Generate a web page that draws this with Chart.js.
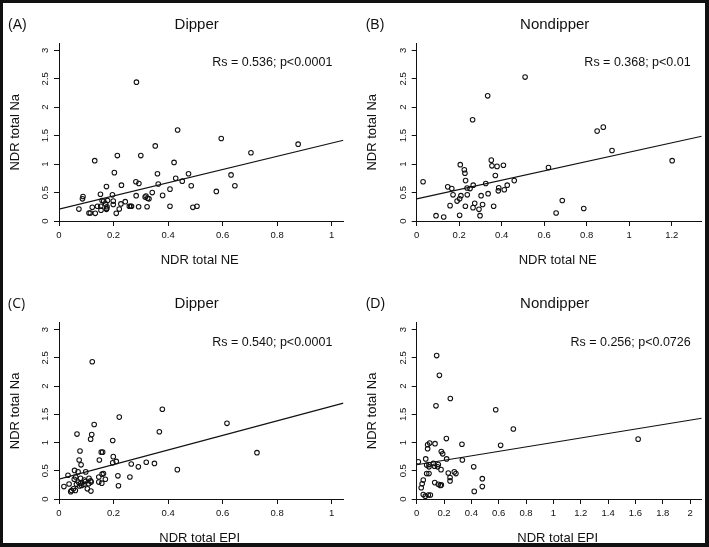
<!DOCTYPE html>
<html>
<head>
<meta charset="utf-8">
<script src="https://cdn.jsdelivr.net/npm/chart.js@4.4.1/dist/chart.umd.min.js"></script>
<style>
  html, body { margin: 0; padding: 0; background: #fff; }
  #wrap { position: relative; width: 709px; height: 547px; overflow: hidden; background: #fff; }
  #wrap canvas { position: absolute; left: 0; top: 0; }
  #frame { position: absolute; left: 0; top: 0; width: 709px; height: 547px; box-sizing: border-box;
           border-style: solid; border-color: #111; border-width: 3px 4px 4px 3px; pointer-events: none; }
</style>
</head>
<body>
<div id="wrap">
  <canvas id="cA" width="709" height="547"></canvas>
  <canvas id="cB" width="709" height="547"></canvas>
  <canvas id="cC" width="709" height="547"></canvas>
  <canvas id="cD" width="709" height="547"></canvas>
  <div id="frame"></div>
</div>
<script>
// ---------- DATA ----------
// (A) Dipper: NDR total NE vs NDR total Na
const neDipperX = [0.284,0.435,0.595,0.877,0.353,0.704,0.214,0.300,0.131,0.422,0.203,0.361,0.475,0.631,0.428,0.282,0.452,0.293,0.364,0.229,0.485,0.645,0.174,0.577,0.407,0.342,0.152,0.196,0.088,0.086,0.380,0.283,0.316,0.325,0.319,0.330,0.158,0.164,0.178,0.199,0.243,0.227,0.122,0.141,0.153,0.171,0.176,0.175,0.174,0.154,0.199,0.221,0.258,0.263,0.266,0.292,0.323,0.407,0.491,0.506,0.073,0.110,0.115,0.133,0.210];
const neDipperY = [2.44,1.60,1.45,1.35,1.32,1.20,1.15,1.15,1.06,1.03,0.85,0.83,0.83,0.81,0.75,0.69,0.70,0.66,0.65,0.63,0.62,0.62,0.605,0.52,0.56,0.50,0.47,0.46,0.43,0.39,0.45,0.445,0.42,0.40,0.44,0.39,0.36,0.35,0.36,0.35,0.34,0.30,0.24,0.26,0.26,0.30,0.25,0.22,0.205,0.19,0.29,0.21,0.26,0.26,0.26,0.25,0.25,0.26,0.24,0.26,0.21,0.14,0.14,0.135,0.135];
// (B) Nondipper: NDR total NE vs NDR total Na
const neNondipperX = [0.510,0.334,0.263,0.849,0.878,0.919,1.202,0.620,0.030,0.205,0.351,0.354,0.378,0.408,0.224,0.227,0.370,0.230,0.459,0.325,0.266,0.426,0.146,0.165,0.237,0.251,0.386,0.412,0.384,0.171,0.336,0.208,0.238,0.303,0.190,0.202,0.157,0.273,0.310,0.229,0.362,0.265,0.293,0.298,0.202,0.091,0.127,0.656,0.685,0.786];
const neNondipperY = [2.53,2.20,1.78,1.58,1.65,1.24,1.06,0.94,0.69,0.99,1.07,0.97,0.96,0.98,0.90,0.84,0.80,0.71,0.71,0.66,0.63,0.63,0.60,0.57,0.58,0.57,0.585,0.55,0.53,0.46,0.48,0.445,0.46,0.445,0.35,0.39,0.27,0.31,0.29,0.26,0.26,0.235,0.205,0.094,0.10,0.094,0.07,0.14,0.36,0.22];
// (C) Dipper: NDR total EPI vs NDR total Na
const epiDipperX = [0.122,0.379,0.221,0.616,0.129,0.368,0.066,0.120,0.116,0.197,0.077,0.155,0.160,0.726,0.199,0.074,0.148,0.210,0.320,0.197,0.265,0.350,0.081,0.291,0.434,0.057,0.098,0.070,0.033,0.163,0.158,0.216,0.061,0.146,0.260,0.110,0.170,0.056,0.079,0.093,0.116,0.037,0.071,0.097,0.118,0.157,0.146,0.080,0.109,0.064,0.092,0.218,0.018,0.075,0.083,0.104,0.053,0.046,0.060,0.117,0.043];
const epiDipperY = [2.43,1.59,1.45,1.34,1.32,1.19,1.15,1.14,1.06,1.035,0.85,0.83,0.83,0.82,0.75,0.69,0.69,0.665,0.65,0.64,0.62,0.63,0.605,0.57,0.52,0.506,0.48,0.48,0.42,0.45,0.44,0.41,0.39,0.39,0.39,0.365,0.35,0.35,0.365,0.335,0.32,0.265,0.30,0.31,0.30,0.28,0.30,0.28,0.27,0.26,0.26,0.235,0.22,0.23,0.24,0.18,0.18,0.15,0.15,0.14,0.13];
// (D) Nondipper: NDR total EPI vs NDR total Na
const epiNondipperX = [0.146,0.166,0.246,0.141,0.578,0.707,1.620,0.217,0.331,0.614,0.134,0.095,0.080,0.080,0.180,0.190,0.219,0.066,0.334,0.012,0.122,0.073,0.090,0.158,0.130,0.090,0.153,0.178,0.417,0.073,0.090,0.231,0.275,0.287,0.048,0.244,0.244,0.132,0.158,0.173,0.180,0.480,0.480,0.421,0.040,0.033,0.048,0.063,0.085,0.100];
const epiNondipperY = [2.54,2.19,1.78,1.65,1.58,1.24,1.06,1.07,0.97,0.95,0.98,0.99,0.96,0.89,0.84,0.80,0.71,0.71,0.69,0.66,0.63,0.60,0.61,0.61,0.58,0.57,0.57,0.52,0.57,0.45,0.45,0.46,0.48,0.45,0.335,0.38,0.32,0.29,0.26,0.24,0.25,0.36,0.22,0.135,0.27,0.20,0.08,0.05,0.07,0.07];

// regression lines (intercept, slope)
const fitIntercepts = [0.21, 0.39, 0.353, 0.606];
const fitSlopes     = [1.16, 0.82, 1.29, 0.395];

// tick labels
const yTickValues  = [0, 0.5, 1, 1.5, 2, 2.5, 3];
const yTickLabels  = ['0', '0.5', '1', '1.5', '2', '2.5', '3'];
const xTicksDipper = [0, 0.2, 0.4, 0.6, 0.8, 1];
const xLabelsDipper = ['0', '0.2', '0.4', '0.6', '0.8', '1'];
const xTicksNeNon  = [0, 0.2, 0.4, 0.6, 0.8, 1, 1.2];
const xLabelsNeNon = ['0', '0.2', '0.4', '0.6', '0.8', '1', '1.2'];
const xTicksEpiNon = [0, 0.2, 0.4, 0.6, 0.8, 1, 1.2, 1.4, 1.6, 1.8, 2];
const xLabelsEpiNon = ['0', '0.2', '0.4', '0.6', '0.8', '1', '1.2', '1.4', '1.6', '1.8', '2'];

// texts
const panelTags   = ['(A)', '(B)', '(C)', '(D)'];
const panelTitles = ['Dipper', 'Nondipper', 'Dipper', 'Nondipper'];
const panelStats  = ['Rs = 0.536; p<0.0001', 'Rs = 0.368; p<0.01', 'Rs = 0.540; p<0.0001', 'Rs = 0.256; p<0.0726'];
const xTitles     = ['NDR total NE', 'NDR total NE', 'NDR total EPI', 'NDR total EPI'];
const yTitle      = 'NDR total Na';

// ---------- LAYOUT ----------
const FONT = '"Liberation Sans", Arial, Helvetica, sans-serif';
const W = 709, H = 547;
const panels = [
  { id: 'cA', xs: neDipperX, ys: neDipperY, xmax: 1.043, xt: xTicksDipper, xl: xLabelsDipper,
    area: { left: 59, right: 343.4, top: 43.5, bottom: 221 }, tagFont: FONT },
  { id: 'cB', xs: neNondipperX, ys: neNondipperY, xmax: 1.341, xt: xTicksNeNon, xl: xLabelsNeNon,
    area: { left: 416.7, right: 701.7, top: 43.5, bottom: 221 }, tagFont: FONT },
  { id: 'cC', xs: epiDipperX, ys: epiDipperY, xmax: 1.043, xt: xTicksDipper, xl: xLabelsDipper,
    area: { left: 59, right: 343.4, top: 322.8, bottom: 499 }, tagFont: '"Open Sans", ' + FONT },
  { id: 'cD', xs: epiNondipperX, ys: epiNondipperY, xmax: 2.085, xt: xTicksEpiNon, xl: xLabelsEpiNon,
    area: { left: 416.7, right: 701.7, top: 322.8, bottom: 499 }, tagFont: FONT }
];

const textPlugin = {
  id: 'panelText',
  afterDraw(chart, args, o) {
    const ctx = chart.ctx, a = chart.chartArea, ys = chart.scales.y;
    const cx = (a.left + a.right) / 2, cy = (a.top + a.bottom) / 2;
    ctx.save();
    ctx.fillStyle = '#111';
    ctx.textBaseline = 'middle';
    // panel tag
    ctx.font = '14px ' + o.tagFont;
    ctx.textAlign = 'left';
    ctx.fillText(o.tag, a.left - 51, a.top - 18.5);
    // title
    ctx.font = '15px ' + FONT;
    ctx.textAlign = 'center';
    ctx.fillText(o.title, cx - 4.5, a.top - 18.5);
    // statistic
    ctx.font = '12.5px ' + FONT;
    ctx.textAlign = 'right';
    ctx.fillText(o.stat, a.right - 11, a.top + 19.5);
    // x title
    ctx.font = '13px ' + FONT;
    ctx.textAlign = 'center';
    ctx.fillText(o.xTitle, cx - 1.5, a.bottom + 39.5);
    // y title
    ctx.save();
    ctx.translate(a.left - 44, cy);
    ctx.rotate(-Math.PI / 2);
    ctx.fillText(yTitle, 0, 0);
    ctx.restore();
    // y tick labels (rotated, as in R)
    ctx.font = '9.5px ' + FONT;
    ctx.fillStyle = '#111';
    yTickValues.forEach((v, i) => {
      const py = ys.getPixelForValue(v);
      ctx.save();
      ctx.translate(a.left - 13.5, py);
      ctx.rotate(-Math.PI / 2);
      ctx.textAlign = 'center';
      ctx.fillText(yTickLabels[i], 0, 0);
      ctx.restore();
    });
    ctx.restore();
  }
};

panels.forEach((p, k) => {
  const pts = p.xs.map((x, i) => ({ x: x, y: p.ys[i] }));
  const b = fitIntercepts[k], m = fitSlopes[k];
  const line = [{ x: 0, y: b }, { x: p.xmax, y: b + m * p.xmax }];
  const axisW = 20, axisH = 20;
  new Chart(document.getElementById(p.id), {
    type: 'scatter',
    data: {
      datasets: [
        { data: pts, showLine: false, pointRadius: 2.3, pointHoverRadius: 2.3, pointBorderWidth: 1.05,
          pointBorderColor: '#111', pointBackgroundColor: 'rgba(0,0,0,0)' },
        { data: line, showLine: true, borderColor: '#111', borderWidth: 1.2, pointRadius: 0, fill: false }
      ]
    },
    options: {
      responsive: false, animation: false, devicePixelRatio: 1,
      events: [],
      layout: { padding: { left: p.area.left - axisW, right: W - p.area.right, top: p.area.top, bottom: H - p.area.bottom - axisH } },
      plugins: {
        legend: { display: false }, title: { display: false }, tooltip: { enabled: false },
        panelText: { tag: panelTags[k], title: panelTitles[k], stat: panelStats[k], xTitle: xTitles[k], tagFont: p.tagFont }
      },
      scales: {
        x: {
          type: 'linear', position: 'bottom', min: 0, max: p.xmax,
          afterFit: s => { s.height = axisH; },
          afterBuildTicks: s => { s.ticks = p.xt.map(v => ({ value: v })); },
          grid: { display: true, drawOnChartArea: false, drawTicks: true, tickLength: 5, color: '#111', lineWidth: 1 },
          border: { display: true, color: '#111', width: 1 },
          ticks: { autoSkip: false, maxRotation: 0, minRotation: 0, padding: 4, color: '#111',
                   font: { family: FONT, size: 9.5 },
                   callback: (v) => { const i = p.xt.indexOf(v); return i >= 0 ? p.xl[i] : ''; } }
        },
        y: {
          type: 'linear', position: 'left', min: 0, max: 3.12,
          afterFit: s => { s.width = axisW; },
          afterBuildTicks: s => { s.ticks = yTickValues.map(v => ({ value: v })); },
          grid: { display: true, drawOnChartArea: false, drawTicks: true, tickLength: 5, color: '#111', lineWidth: 1 },
          border: { display: true, color: '#111', width: 1 },
          ticks: { display: false }
        }
      }
    },
    plugins: [textPlugin]
  });
});
</script>
</body>
</html>
